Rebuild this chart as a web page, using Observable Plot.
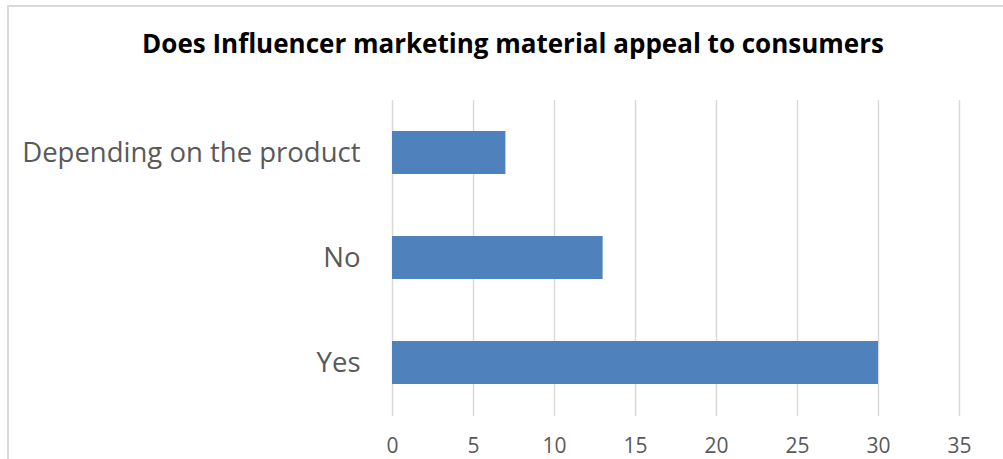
<!DOCTYPE html>
<html>
<head>
<meta charset="utf-8">
<script src="https://cdn.jsdelivr.net/npm/d3@7"></script>
<script src="https://cdn.jsdelivr.net/npm/@observablehq/plot@0.6"></script>
<style>
  html, body { margin: 0; padding: 0; background: #fff; }
  #wrap { position: relative; width: 1003px; height: 459px; overflow: hidden; background: #fff; }
  #border { position: absolute; left: 7px; top: 5px; width: 1100px; height: 600px; border: 2px solid #d9d9d9; box-sizing: border-box; }
  #title { position: absolute; left: 0; width: 1026px; top: 25px; text-align: center; font-family: "Open Sans", sans-serif; font-weight: bold; font-size: 26px; letter-spacing: 0px; color: #000; }
  #chart { position: absolute; left: 0; top: 0; }
</style>
</head>
<body>
<div id="wrap">
  <div id="border"></div>
  <div id="title">Does Influencer marketing material appeal to consumers</div>
  <div id="chart"></div>
</div>
<script>
const categories = ["Depending on the product", "No", "Yes"];
const values = [7, 13, 30];
const xTicks = [0, 5, 10, 15, 20, 25, 30, 35];

const data = categories.map((c, i) => ({category: c, value: values[i]}));

const plot = Plot.plot({
  width: 1003,
  height: 459,
  marginTop: 100,
  marginBottom: 43,
  marginLeft: 392,
  marginRight: 44,
  style: {background: "transparent", fontFamily: "'Open Sans', sans-serif"},
  x: {domain: [0, 35], ticks: xTicks, label: null},
  y: {domain: categories, label: null, paddingInner: 0.59, paddingOuter: 0.295},
  marks: [
    Plot.gridX(xTicks, {stroke: "#d9d9d9", strokeOpacity: 1, strokeWidth: 1.5}),
    Plot.barX(data, {x: "value", y: "category", fill: "#4f81bd"}),
    Plot.axisX({ticks: xTicks, tickSize: 0, tickPadding: 22, fontSize: 21, fill: "#595959", label: null}),
    Plot.axisY({tickSize: 0, tickPadding: 32, fontSize: 27.5, fill: "#595959", label: null})
  ]
});
document.getElementById("chart").appendChild(plot);
</script>
</body>
</html>
